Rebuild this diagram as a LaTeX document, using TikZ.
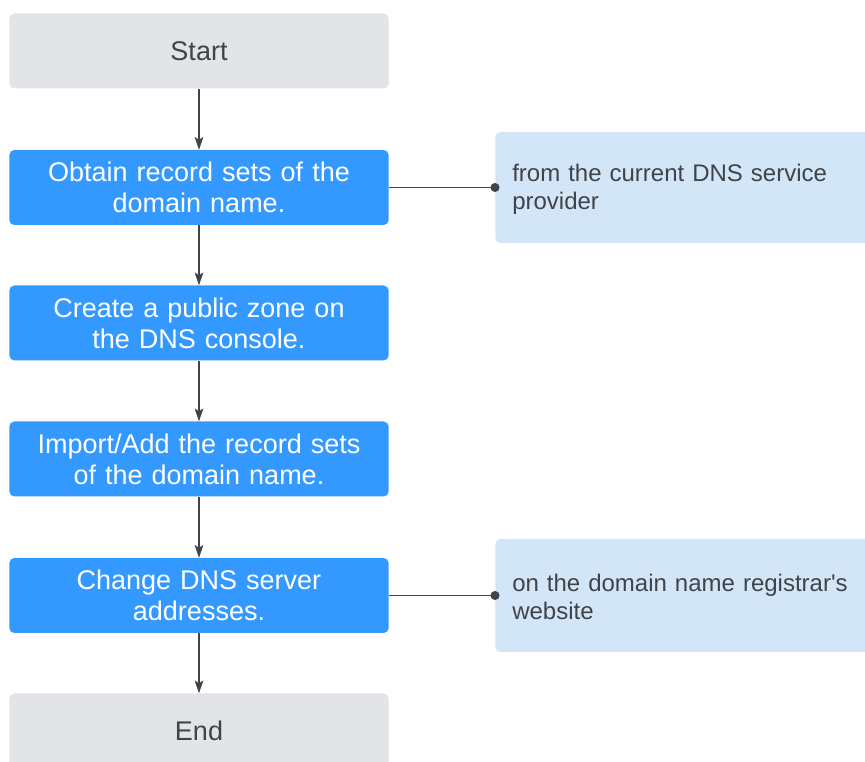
\documentclass[tikz,border=0pt]{standalone}
\usepackage{fontspec}
\setmainfont{Liberation Sans}
\usetikzlibrary{arrows.meta}
\definecolor{gbox}{HTML}{E2E4E8}
\definecolor{bbox}{HTML}{3399FF}
\definecolor{nbox}{HTML}{D3E6F8}
\definecolor{ink}{HTML}{404347}
\begin{document}
\begin{tikzpicture}[x=0.75pt,y=-0.75pt,
 stepbox/.style={rectangle, rounded corners=3.75pt, minimum width=284.5pt, minimum height=56.25pt, inner sep=0pt, align=center, text width=280pt, font=\fontsize{20.25}{23.25}\selectfont},
 greybox/.style={stepbox, fill=gbox, text=ink},
 bluebox/.style={stepbox, fill=bbox, text=white},
 notebox/.style={rectangle, rounded corners=3.75pt, fill=nbox, text=ink, minimum width=285pt, inner xsep=12.75pt, inner ysep=0pt, text width=259.5pt, align=left, font=\fontsize{18}{21}\selectfont},
 flow/.style={draw=ink, line width=1.1pt, -{Stealth[length=9.5pt,width=6.5pt,inset=2pt]}},
 link/.style={draw=ink, line width=1.1pt}]
\useasboundingbox (0,0) rectangle (865,762);
\clip (0,0) rectangle (865,762);
\node[greybox] (start) at (199,51) {Start};
\node[bluebox] (obtain) at (199,187.5) {Obtain record sets of the\\domain name.};
\node[bluebox] (create) at (199,323) {Create a public zone on\\the DNS console.};
\node[bluebox] (import) at (199,459) {Import/Add the record sets\\of the domain name.};
\node[bluebox] (change) at (199,595.5) {Change DNS server\\addresses.};
\node[greybox] (finish) at (199,731) {End};
\node[notebox, minimum height=83.25pt, anchor=west] (n1) at (495,187.5) {\vphantom{p}\\[-15pt]from the current DNS service\\provider};
\node[notebox, minimum height=84.75pt, anchor=west] (n2) at (495,595.5) {\vphantom{p}\\[-15pt]on the domain name registrar\textquotesingle s\\website};
\draw[flow] (start) -- (obtain);
\draw[flow] (obtain) -- (create);
\draw[flow] (create) -- (import);
\draw[flow] (import) -- (change);
\draw[flow] (change) -- (finish);
\draw[link] (obtain.east) -- (n1.west);
\fill[ink] (n1.west) circle (3.4pt);
\draw[link] (change.east) -- (n2.west);
\fill[ink] (n2.west) circle (3.4pt);
\end{tikzpicture}
\end{document}
